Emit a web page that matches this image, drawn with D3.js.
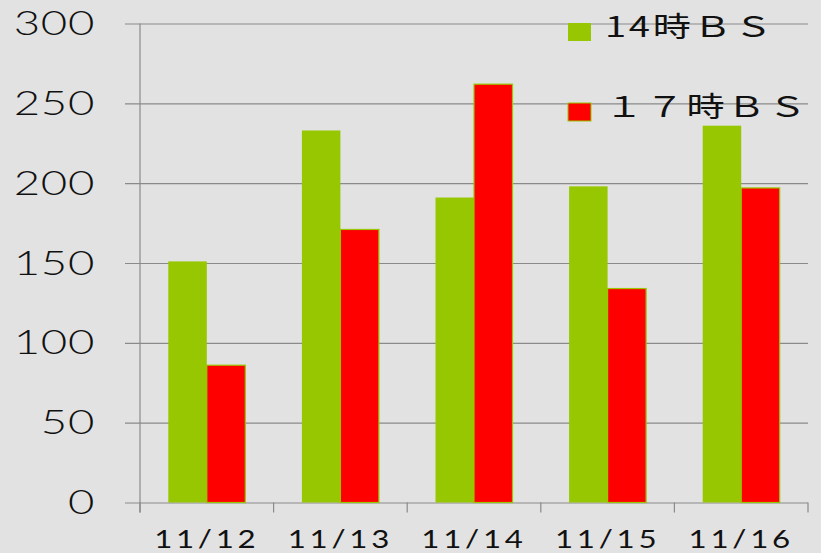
<!DOCTYPE html>
<html>
<head>
<meta charset="utf-8">
<script src="https://cdn.jsdelivr.net/npm/d3@7"></script>
<style>
  html, body { margin: 0; padding: 0; background: #e2e2e2; }
  svg { display: block; }
</style>
</head>
<body>
<div id="chart"></div>
<script>
// data
let categories = ["11/12", "11/13", "11/14", "11/15", "11/16"];
let seriesNames = ["14時ＢＳ", "１７時ＢＳ"];
let bs14 = [151, 233, 191, 198, 236];
let bs17 = [86, 171, 262, 134, 197];
let yTicks = [0, 50, 100, 150, 200, 250, 300];

let seriesColours = ["#97c700", "#ff0000"];
let seriesStrokes = ["none", "#97c700"];

let width = 821;
let height = 553;
let margin = { top: 23.5, right: 13, bottom: 50.5, left: 140 };
let stretch = 1.38;

let svg = d3.select("#chart").append("svg")
  .attr("width", width)
  .attr("height", height);

svg.append("rect")
  .attr("width", width)
  .attr("height", height)
  .attr("fill", "#e2e2e2");

let x = d3.scaleBand()
  .domain(categories)
  .range([margin.left, width - margin.right])
  .paddingInner(0)
  .paddingOuter(0);

let xs = d3.scaleBand()
  .domain([0, 1])
  .range([0, x.bandwidth()])
  .paddingInner(0)
  .paddingOuter(0.735);

let y = d3.scaleLinear()
  .domain([0, 300])
  .range([height - margin.bottom, margin.top]);

// gridlines
let yAxis = d3.axisLeft(y)
  .tickValues(yTicks)
  .tickSize(-(width - margin.right - margin.left + 15))
  .tickFormat("");

let yg = svg.append("g")
  .attr("transform", "translate(" + (margin.left - 15) + ",0)")
  .call(yAxis);
yg.select(".domain").remove();
yg.selectAll(".tick line")
  .attr("stroke", "#8a8a8a")
  .attr("stroke-width", 1.2);

// y labels, stretched sideways like the original
yTicks.forEach(function(d) {
  svg.append("text")
    .attr("transform", "translate(95," + (y(d) + 11.5) + ") scale(" + stretch + ",1)")
    .attr("text-anchor", "end")
    .style("font-family", "Lato, 'DejaVu Sans', sans-serif")
    .style("font-weight", 300)
    .style("font-size", "33px")
    .style("letter-spacing", "0.5px")
    .attr("fill", "#111")
    .text(d);
});

// vertical axis line
svg.append("line")
  .attr("x1", margin.left).attr("x2", margin.left)
  .attr("y1", y(300)).attr("y2", y(0) + 10)
  .attr("stroke", "#8a8a8a")
  .attr("stroke-width", 1.2);

// category ticks
let boundaries = categories.map(function(d) { return x(d); })
  .concat([x(categories[categories.length - 1]) + x.bandwidth()]);
svg.selectAll(".xtick")
  .data(boundaries)
  .enter().append("line")
    .classed("xtick", true)
    .attr("x1", function(d) { return d; })
    .attr("x2", function(d) { return d; })
    .attr("y1", y(0))
    .attr("y2", y(0) + 10)
    .attr("stroke", "#8a8a8a")
    .attr("stroke-width", 1.2);

// bars
let series = [bs14, bs17];
series.forEach(function(values, s) {
  svg.selectAll(".bar" + s)
    .data(values)
    .enter().append("rect")
      .classed("bar" + s, true)
      .attr("x", function(d, i) { return x(categories[i]) + xs(s); })
      .attr("y", function(d) { return y(d); })
      .attr("width", xs.bandwidth())
      .attr("height", function(d) { return y(0) - y(d); })
      .attr("fill", seriesColours[s])
      .attr("stroke", seriesStrokes[s])
      .attr("stroke-width", 1.2);
});

// x labels
categories.forEach(function(d) {
  svg.append("text")
    .attr("transform", "translate(" + (x(d) + x.bandwidth() / 2) + ",548) scale(1.25,1)")
    .attr("text-anchor", "middle")
    .style("font-family", "Lato, 'DejaVu Sans', sans-serif")
    .style("font-size", "25px")
    .style("letter-spacing", "3px")
    .attr("fill", "#111")
    .text(d);
});

// legend
let legendY = [23, 103];
seriesNames.forEach(function(name, s) {
  svg.append("rect")
    .attr("x", 568)
    .attr("y", legendY[s])
    .attr("width", 23)
    .attr("height", 18)
    .attr("fill", seriesColours[s])
    .attr("stroke", seriesStrokes[s])
    .attr("stroke-width", 1);

  svg.append("text")
    .attr("transform", "translate(605," + (legendY[s] + 14) + ") scale(1.36,1)")
    .style("font-family", "'Noto Sans CJK JP', sans-serif")
    .style("font-size", "28px")
    .style("letter-spacing", "2px")
    .attr("fill", "#111")
    .text(name);
});
</script>
</body>
</html>
